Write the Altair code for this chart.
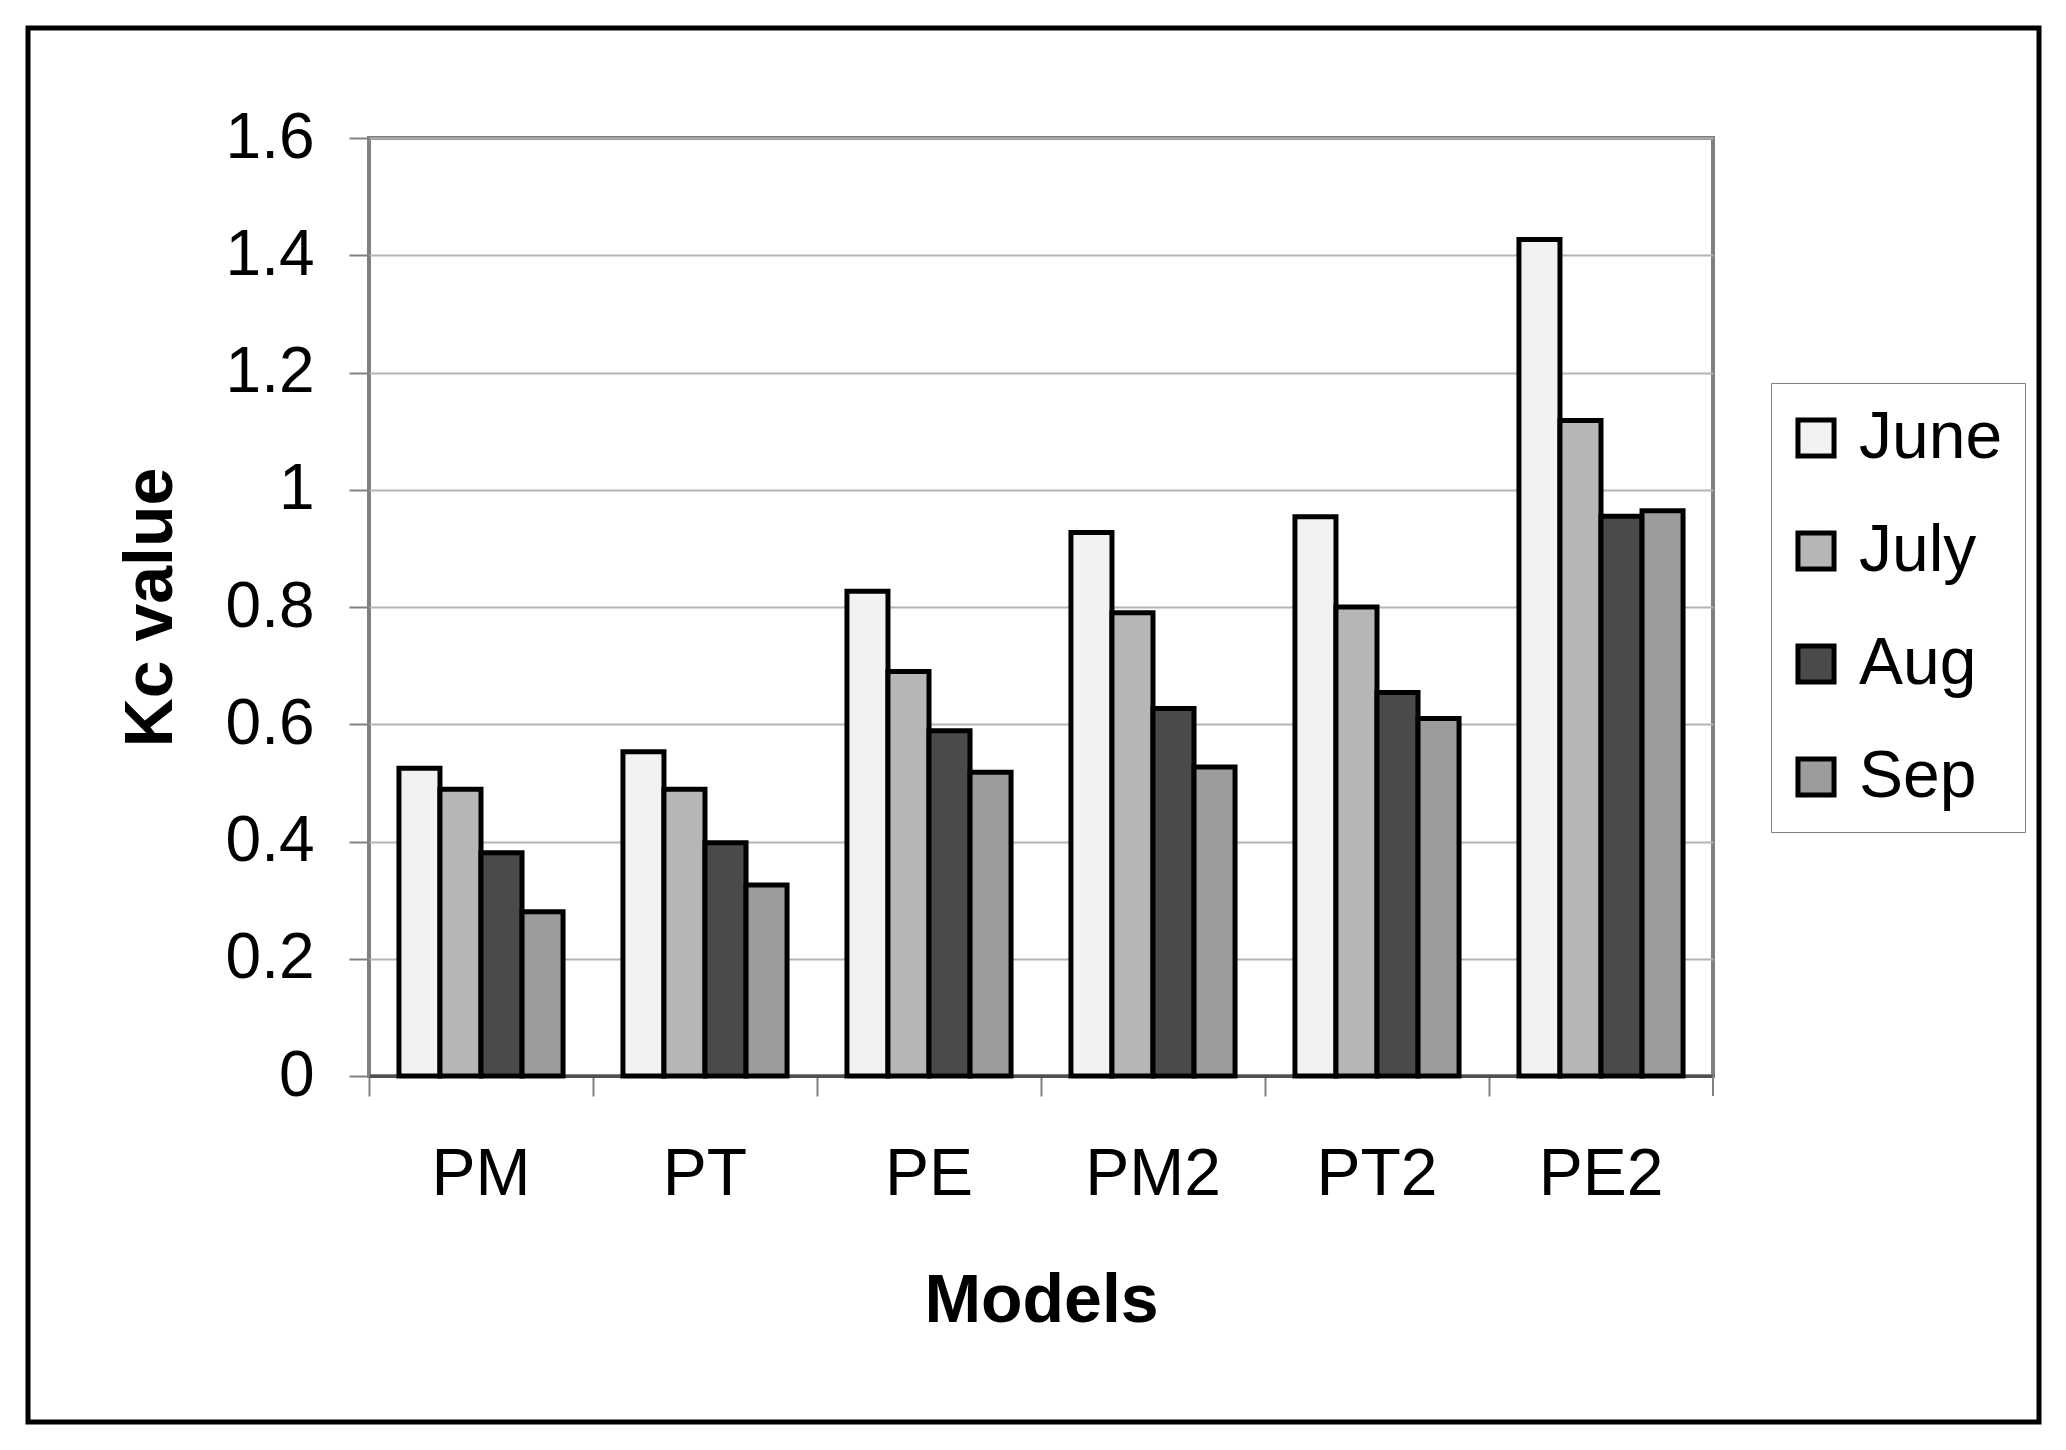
import altair as alt
import pandas as pd

models = ["PM", "PT", "PE", "PM2", "PT2", "PE2"]
months = ["June", "July", "Aug", "Sep"]
june = [0.525, 0.553, 0.827, 0.927, 0.954, 1.427]
july = [0.489, 0.489, 0.690, 0.790, 0.800, 1.118]
aug = [0.381, 0.398, 0.589, 0.627, 0.654, 0.955]
sep = [0.280, 0.326, 0.518, 0.527, 0.610, 0.964]
y_ticks = [0, 0.2, 0.4, 0.6, 0.8, 1.0, 1.2, 1.4, 1.6]
month_colors = ["#f2f2f2", "#b6b6b6", "#4a4a4a", "#9c9c9c"]

rows = []
for m, series in zip(months, [june, july, aug, sep]):
    for model, v in zip(models, series):
        rows.append({"Model": model, "Month": m, "Kc": v})
df = pd.DataFrame(rows)

FONT = "Liberation Sans"
W, H = 1344, 938

bars = alt.Chart(df).mark_bar(stroke="black", strokeWidth=5, strokeJoin="miter").encode(
    x=alt.X("Model:N", sort=models,
            scale=alt.Scale(paddingInner=0, paddingOuter=0),
            axis=alt.Axis(title="Models", labelAngle=0, bandPosition=0, grid=False,
                          tickSize=20, tickColor="#808080", tickWidth=2,
                          domainColor="#505050", domainWidth=3,
                          labelFontSize=66, labelFont=FONT, labelColor="black",
                          labelPadding=46,
                          titleFontSize=68, titleFont=FONT, titleFontWeight="bold",
                          titleColor="black", titleBaseline="alphabetic", titleY=245)),
    xOffset=alt.XOffset("Month:N", sort=months,
                        scale=alt.Scale(paddingInner=0, paddingOuter=0.73)),
    y=alt.Y("Kc:Q", scale=alt.Scale(domain=[0, 1.6], nice=False, zero=True),
            axis=alt.Axis(title="Kc value", values=y_ticks, format=".1~f",
                          domain=False, grid=True, gridColor="#b4b4b4", gridWidth=2,
                          tickSize=20, tickColor="#808080", tickWidth=2,
                          labelFontSize=64, labelFont=FONT, labelColor="black",
                          labelPadding=35,
                          titleFontSize=68, titleFont=FONT, titleFontWeight="bold",
                          titleColor="black", titleBaseline="alphabetic",
                          titleX=-198, titleAngle=270)),
    color=alt.Color("Month:N", sort=months,
                    scale=alt.Scale(domain=months, range=month_colors),
                    legend=alt.Legend(title=None, orient="none", legendX=1402, legendY=245,
                                      direction="vertical", padding=22,
                                      strokeColor="#808080", fillColor="white",
                                      symbolType="square", symbolSize=1300,
                                      symbolOffset=-10,
                                      symbolStrokeColor="black", symbolStrokeWidth=5,
                                      labelFontSize=66, labelFont=FONT, labelColor="black",
                                      labelOffset=10, labelLimit=400, rowPadding=47)),
)

end_tick = alt.Chart(pd.DataFrame({"k": [0]})).mark_rule(color="#808080", strokeWidth=2).encode(
    x=alt.value(W), y=alt.value(H), y2=alt.value(H + 20)
)

frame = alt.Chart(pd.DataFrame({"k": [0]})).mark_rect(
    fillOpacity=0, stroke="black", strokeWidth=5
).encode(
    x=alt.value(-341), x2=alt.value(1670), y=alt.value(-110), y2=alt.value(1284)
)

chart = alt.layer(bars, end_tick, frame).properties(
    width=W, height=H,
    autosize=alt.AutoSizeParams(type="none"),
    padding={"left": 361, "top": 130, "right": 345, "bottom": 358},
    background="white",
).configure_view(stroke="#808080", strokeWidth=4)

chart.save("out.html", embed_options={"renderer": "svg", "actions": False})
